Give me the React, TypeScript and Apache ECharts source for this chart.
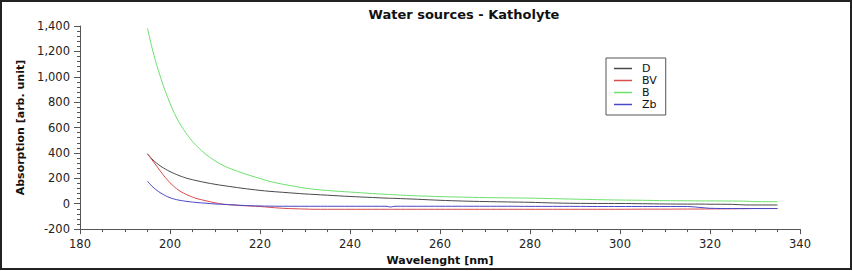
import React, { useEffect, useRef } from "react";
import * as echarts from "echarts";

const wavelengths = [195, 196, 197, 198, 199, 200, 201, 202, 203, 204, 205, 206, 208, 210, 212, 214, 216, 218, 220, 222, 225, 228, 230, 232, 235, 240, 245, 248, 249, 250, 255, 260, 265, 270, 275, 280, 285, 290, 295, 300, 305, 310, 315, 318, 320, 325, 328, 330, 335];

const seriesD = [393, 352, 320, 294, 272, 253, 237, 222, 209, 198, 189, 181, 166, 153, 142, 132, 122, 113, 105, 98, 90, 82, 77, 73, 67, 57, 49, 44, 43, 42, 35, 27, 21, 17, 14, 11, 6, 3, 2, 2, 0, -2, -3, -3, -4, -5, -10, -10, -10];
const seriesBV = [393, 345, 298, 250, 205, 165, 132, 104, 84, 67, 52, 40, 23, 7, -5, -10, -15, -18, -22, -28, -36, -40, -42, -44, -44, -44, -44, -44, -44, -44, -44, -44, -44, -44, -44, -44, -44, -44, -44, -44, -43, -43, -42, -42, -41, -40, -39, -38, -38];
const seriesB = [1382, 1228, 1098, 985, 882, 792, 710, 642, 585, 535, 490, 452, 388, 338, 298, 268, 243, 220, 199, 177, 154, 135, 123, 114, 104, 92, 80, 74, 72, 70, 62, 56, 52, 48, 46, 44, 40, 36, 32, 29, 27, 24, 23, 22, 22, 21, 20, 16, 16];
const seriesZb = [177, 138, 107, 83, 63, 47, 36, 28, 22, 17, 13, 9, 4, -2, -5, -9, -13, -16, -18, -19, -20, -20, -20, -20, -20, -20, -20, -20, -26, -20, -20, -20, -20, -20, -20, -21, -21, -21, -22, -22, -22, -22, -22, -30, -36, -38, -38, -38, -38];

const seriesNames = ["D", "BV", "B", "Zb"];
const seriesColors = ["#4a4a4a", "#d94c4c", "#6ee06e", "#4848c8"];

const FONT = "DejaVu Sans";

export default function App() {
  const ref = useRef<HTMLDivElement>(null);
  useEffect(() => {
    if (!ref.current) return;
    const chart = echarts.init(ref.current, undefined, { renderer: "svg" });
    const all = [seriesD, seriesBV, seriesB, seriesZb];
    chart.setOption({
      animation: false,
      backgroundColor: "#ffffff",
      title: {
        text: "Water sources - Katholyte",
        left: 459,
        top: 3,
        textAlign: "center",
        textStyle: { fontFamily: FONT, fontSize: 13, fontWeight: "bold", color: "#111" },
      },
      legend: {
        orient: "vertical",
        left: 606,
        top: 58,
        data: seriesNames,
        icon: "rect",
        itemWidth: 18,
        itemHeight: 1.5,
        itemGap: 1,
        padding: [5, 9, 5, 8],
        borderColor: "#555",
        borderWidth: 1,
        textStyle: { fontFamily: FONT, fontSize: 11, color: "#111", padding: [0, 0, 0, 5] },
      },
      grid: { left: 80, right: 52, top: 26, bottom: 40 },
      xAxis: {
        type: "value",
        min: 180,
        max: 340,
        interval: 20,
        name: "Wavelenght [nm]",
        nameLocation: "middle",
        nameGap: 25,
        nameTextStyle: { fontFamily: FONT, fontSize: 11, fontWeight: "bold", color: "#111" },
        axisLine: { show: true, onZero: false, lineStyle: { color: "#555", width: 1 } },
        axisTick: { show: true, length: 5, lineStyle: { color: "#555" } },
        minorTick: { show: true, splitNumber: 4, length: 3, lineStyle: { color: "#555" } },
        splitLine: { show: false },
        axisLabel: { fontFamily: FONT, fontSize: 11.5, color: "#222", margin: 9 },
      },
      yAxis: {
        type: "value",
        min: -200,
        max: 1400,
        interval: 200,
        name: "Absorption [arb. unit]",
        nameLocation: "middle",
        nameGap: 51,
        nameTextStyle: { fontFamily: FONT, fontSize: 11, fontWeight: "bold", color: "#111" },
        axisLine: { show: true, lineStyle: { color: "#555", width: 1 } },
        axisTick: { show: true, length: 6, lineStyle: { color: "#555" } },
        minorTick: { show: true, splitNumber: 5, length: 3, lineStyle: { color: "#555" } },
        splitLine: { show: false },
        axisLabel: {
          fontFamily: FONT,
          fontSize: 11.5,
          color: "#222",
          margin: 10,
          formatter: (v: number) => v.toLocaleString("en-US"),
        },
      },
      graphic: [
        {
          type: "rect",
          shape: { x: 1, y: 1, width: 850, height: 268 },
          style: { fill: "none", stroke: "#222", lineWidth: 2 },
          silent: true,
        },
      ],
      series: seriesNames.map((name, i) => ({
        name,
        type: "line",
        showSymbol: false,
        symbol: "none",
        smooth: 0.3,
        color: seriesColors[i],
        lineStyle: { width: 1, color: seriesColors[i] },
        data: wavelengths.map((w, j) => [w, all[i][j]]),
      })),
    });
    return () => chart.dispose();
  }, []);
  return (
    <div
      ref={ref}
      style={{ position: "fixed", left: 0, top: 0, width: 852, height: 271 }}
    />
  );
}
